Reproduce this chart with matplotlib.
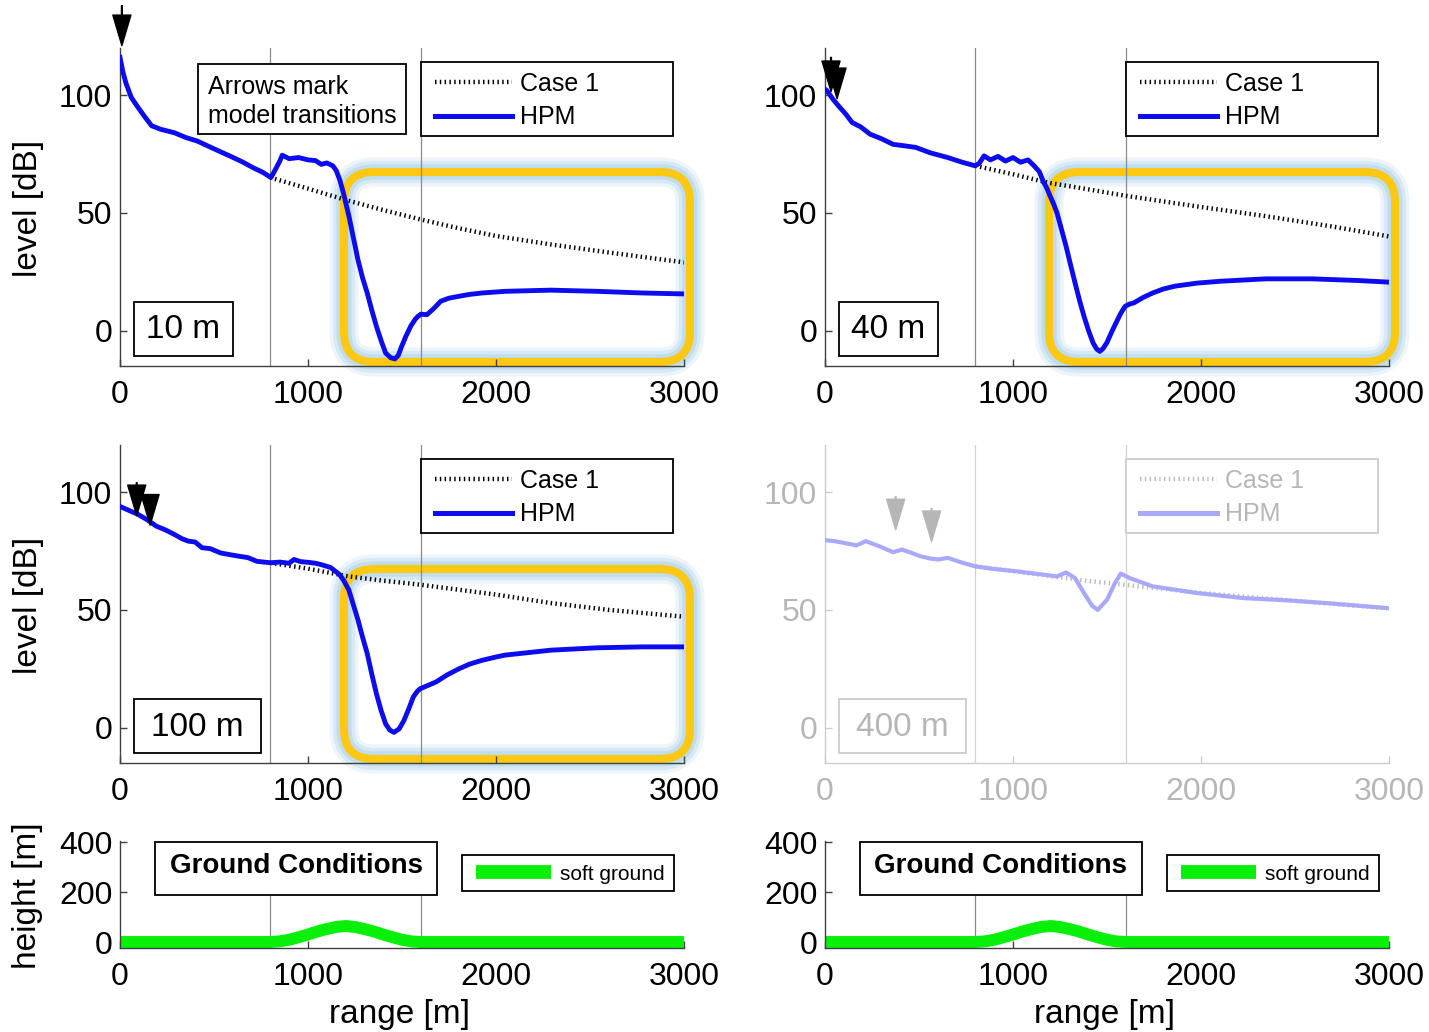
import matplotlib
matplotlib.use("Agg")
import matplotlib.pyplot as plt
from matplotlib.patches import FancyBboxPatch, Rectangle
from matplotlib.lines import Line2D

plt.rcParams['font.family'] = ['Liberation Sans', 'DejaVu Sans']

# ---------------------------------------------------------------- data
x_ticks = [0, 1000, 2000, 3000]
level_ticks = [0, 50, 100]
height_ticks = [0, 200, 400]
transitions = [800, 1600]          # model transition ranges [m]

# receiver height 10 m
range_10m = [0, 15, 32, 60, 94, 130, 168, 216, 290, 350, 411, 500, 583, 650,
             705, 760, 803, 827, 850, 863, 900, 950, 1000, 1040, 1070, 1100,
             1132, 1150, 1169, 1188, 1200, 1218, 1240, 1266, 1290, 1315, 1340,
             1364, 1390, 1413, 1440, 1462, 1480, 1498, 1520, 1547, 1570, 1584,
             1600, 1633, 1670, 1706, 1750, 1803, 1860, 1926, 2048, 2292, 2536,
             2780, 3000]
hpm_10m = [116, 110, 105, 99, 95, 91, 87, 85.5, 84, 82, 80.5, 77.2, 74.2, 71.7,
           69.3, 67.2, 65, 68.5, 72, 74.5, 73, 73.5, 72.5, 72.2, 70.6, 71.2,
           70, 68, 64, 58.6, 54.5, 48.5, 40, 30, 22.5, 16, 8.5,
           1.8, -4.5, -9.5, -11.5, -12, -10.5, -6.7, -2.5, 2, 4.8, 6,
           7, 6.8, 9.5, 12.5, 13.8, 14.6, 15.4, 16, 16.7, 17.2, 16.7,
           16, 15.6]
case1_range_10m = [800, 1000, 1200, 1400, 1600, 1800, 2000, 2300, 2600, 3000]
case1_10m = [65, 60.3, 55.5, 51.2, 47.2, 43.5, 40.2, 36.5, 33.2, 29]

# receiver height 40 m
range_40m = [0, 11, 40, 71, 110, 144, 190, 240, 300, 362, 420, 483, 560, 653,
             730, 798, 820, 846, 880, 920, 960, 1000, 1040, 1080, 1112, 1140,
             1160, 1180, 1197, 1215, 1234, 1258, 1282, 1306, 1330, 1354, 1378,
             1402, 1426, 1445, 1462, 1480, 1500, 1525, 1548, 1572, 1596, 1620,
             1643, 1690, 1743, 1800, 1862, 1980, 2106, 2346, 2590, 2833, 3000]
hpm_40m = [102.5, 101.8, 98.5, 95.5, 92, 88.4, 86.5, 83.4, 81.5, 79.1, 78.5,
           77.8, 75.5, 73.5, 71.5, 70, 71, 74.2, 72.5, 74, 72, 73.5, 71.5,
           72.5, 70, 67.5, 63.5, 60.5, 57.2, 54, 50, 43, 35.9, 28, 20.3,
           12.8, 6, 0, -5.2, -7.8, -8.8, -7.5, -5, -0.5, 3.3, 7.2, 10.3,
           11.3, 11.8, 14, 16, 17.7, 18.9, 20.2, 21, 22, 22, 21.3, 20.6]
case1_range_40m = [800, 1000, 1188, 1400, 1604, 2000, 2346, 2700, 3000]
case1_40m = [70, 66.4, 62.8, 60, 57.2, 52.5, 48.6, 44.2, 40]

# receiver height 100 m
range_100m = [0, 40, 94, 140, 192, 240, 290, 330, 363, 400, 436, 480, 534,
              580, 632, 680, 729, 802, 850, 900, 925, 960, 1000, 1040, 1071,
              1120, 1168, 1190, 1217, 1240, 1266, 1290, 1315, 1340, 1364, 1388,
              1413, 1435, 1457, 1485, 1510, 1535, 1560, 1580, 1596, 1640, 1681,
              1740, 1803, 1860, 1926, 2000, 2048, 2292, 2536, 2780, 3000]
hpm_100m = [93.9, 92.5, 90.6, 88.5, 85.6, 84, 82, 80.2, 79.2, 78.8, 76.4, 76,
            74.2, 73.5, 72.8, 72.2, 70.6, 70, 70.3, 69.8, 71.4, 70.5, 70.2,
            69.8, 69.2, 68, 65, 62.5, 58.5, 52.5, 45.7, 38.5, 31.5, 22.5, 14.4,
            7.5, 1.6, -1, -2, -0.5, 3, 7.8, 13, 15.3, 16.5, 18, 19.4,
            22.4, 25, 27, 28.6, 30, 30.8, 32.9, 33.9, 34.3, 34.3]
case1_range_100m = [800, 1000, 1217, 1400, 1596, 2000, 2292, 2600, 3000]
case1_100m = [70, 67.5, 64.2, 62.4, 60.7, 56.5, 52.9, 50, 47.1]

# receiver height 400 m
range_400m = [0, 50, 96, 168, 217, 289, 362, 410, 460, 506, 560, 604, 653,
              720, 798, 895, 1016, 1137, 1234, 1282, 1330, 1378, 1420, 1451,
              1500, 1540, 1573, 1621, 1743, 1984, 2227, 2469, 2712, 3000]
hpm_400m = [79.6, 79.2, 78.5, 77.4, 79.2, 77, 74.5, 75.6, 74.2, 72.8, 71.8,
            71.4, 72.1, 70.3, 68.5, 67.4, 66.4, 65.2, 64.2, 65.9, 63.5, 57.1,
            51.8, 50, 54.3, 61, 65.4, 63.5, 60, 57.1, 55, 54, 52.6, 50.7]
case1_range_400m = [800, 1400, 2000, 3000]
case1_400m = [68.5, 62.3, 57.2, 50.6]

# terrain profile (soft ground everywhere)
ground_range = [0, 800, 850, 900, 950, 1000, 1050, 1100, 1150, 1200, 1250,
                1300, 1350, 1400, 1450, 1500, 1550, 1600, 3000]
ground_height = [0, 0, 2.5, 9, 19, 30, 42, 52, 60, 64, 60, 52, 42, 30, 19,
                 9, 2.5, 0, 0]

# transition arrows: (range, level at tail, level at tip)
arrows_10m = [(10, 138, 121)]
arrows_40m = [(32, 116, 101.5), (64, 111, 98.5)]
arrows_100m = [(89, 104, 90), (160, 97, 86)]
arrows_400m = [(376, 98, 84), (567, 93, 79)]

# ---------------------------------------------------------------- layout
W, H = 1429, 1032
fig = plt.figure(figsize=(W / 100, H / 100), dpi=100)
fig.patch.set_facecolor('white')


def fx(px):
    return px / W


def fy(py):
    return 1 - py / H


def axes_at(x0, y0, x1, y1):
    return fig.add_axes([fx(x0), fy(y1), (x1 - x0) / W, (y1 - y0) / H])


def box(x0, y0, x1, y1, ec='black', lw=1.3):
    fig.add_artist(Rectangle((fx(x0), fy(y1)), (x1 - x0) / W, (y1 - y0) / H,
                             transform=fig.transFigure, fc='white', ec=ec,
                             lw=lw, zorder=5))


def ftext(x, y, s, **kw):
    kw.setdefault('zorder', 6)
    fig.text(fx(x), fy(y), s, **kw)


def fline(x0, x1, y, **kw):
    fig.add_artist(Line2D([fx(x0), fx(x1)], [fy(y), fy(y)],
                          transform=fig.transFigure, zorder=6, **kw))


def style_axes(ax, ylim, yticks, ink, spine):
    ax.set_xlim(0, 3000)
    ax.set_ylim(*ylim)
    ax.set_xticks(x_ticks)
    ax.set_yticks(yticks)
    ax.set_facecolor('none')
    for s in ('top', 'right'):
        ax.spines[s].set_visible(False)
    for s in ('left', 'bottom'):
        ax.spines[s].set_color(spine)
        ax.spines[s].set_linewidth(1.0)
    ax.tick_params(axis='both', direction='in', length=5, width=1,
                   color=spine, labelcolor=ink, labelsize=23)
    ax.tick_params(axis='x', pad=10)
    ax.tick_params(axis='y', pad=5.5)


DOTS = (0, (0.33, 0.75))


def level_panel(left, top, r, lv, cr, cv, tag, tag_w, arrows,
                yellow=True, faded=False):
    ax = axes_at(left, top, left + 564, top + 318)
    ink = '#b6b6b6' if faded else 'black'
    spine = '#cccccc' if faded else '#404040'
    blue = '#a9a9fb' if faded else '#0c0cee'
    dot = '#bdbdbd' if faded else 'black'
    vcol = '#d2d2d2' if faded else '#8a8a8a'
    style_axes(ax, (-15, 120), level_ticks, ink, spine)

    for t in transitions:
        ax.axvline(t, color=vcol, lw=0.9, zorder=1)

    if yellow:
        x0, x1 = left + 224, left + 570
        y0, y1 = top + 124, top + 314
        rect = (fx(x0), fy(y1), (x1 - x0) / W, (y1 - y0) / H)
        style = "round,pad=0,rounding_size=%f" % (30 / W)
        for lw, a in ((21, 0.18), (16, 0.28), (11, 0.4)):
            ax.add_patch(FancyBboxPatch(rect[:2], rect[2], rect[3],
                                        boxstyle=style, mutation_aspect=W / H,
                                        transform=fig.transFigure, fc='none',
                                        ec='#9fcbe6', lw=lw, alpha=a,
                                        clip_on=False, zorder=0.4))
        ax.add_patch(FancyBboxPatch(rect[:2], rect[2], rect[3],
                                    boxstyle=style, mutation_aspect=W / H,
                                    transform=fig.transFigure, fc='none',
                                    ec='#fcc814', lw=5.8,
                                    clip_on=False, zorder=0.5))

    ax.plot(cr, cv, color=dot, lw=3.2, ls=DOTS, zorder=2,
            dash_capstyle='butt')
    ax.plot(r, lv, color=blue, lw=3.0 if faded else 3.5, zorder=3,
            solid_joinstyle='round')

    for xa, ya0, ya1 in arrows:
        ax.annotate('', xy=(xa, ya1), xytext=(xa, ya0),
                    arrowprops=dict(facecolor=ink, edgecolor=ink, width=0.6,
                                    headwidth=13, headlength=22, shrink=0),
                    annotation_clip=False, zorder=4)

    # receiver height tag
    box(left + 14, top + 254, left + 14 + tag_w, top + 308,
        ec=spine if faded else 'black')
    ftext(left + 14 + tag_w / 2, top + 282, tag, ha='center', va='center',
          fontsize=24, color=ink)

    # legend
    lx, ly = left + 301, top + 14
    box(lx, ly, lx + 252, ly + 74, ec=spine if faded else 'black')
    fline(lx + 14, lx + 91, ly + 20, color=dot, lw=3.2, ls=DOTS,
          dash_capstyle='butt')
    fline(lx + 14, lx + 91, ly + 54, color=blue, lw=3.6)
    ftext(lx + 99, ly + 22, 'Case 1', ha='left', va='center', fontsize=18,
          color=ink)
    ftext(lx + 99, ly + 55, 'HPM', ha='left', va='center', fontsize=18,
          color=ink)
    return ax


def ground_panel(left):
    ax = axes_at(left, 841, left + 564, 948)
    style_axes(ax, (-24, 404), height_ticks, 'black', '#404040')
    for t in transitions:
        ax.axvline(t, color='#8a8a8a', lw=0.9, zorder=1)
    ax.plot(ground_range, ground_height, color='#08f008', lw=8.6, zorder=2,
            solid_capstyle='butt')
    box(left + 35, 842, left + 317, 895)
    ftext(left + 176, 866, 'Ground Conditions', ha='center', va='center',
          fontsize=20, fontweight='bold')
    box(left + 342, 855, left + 554, 891)
    fline(left + 356, left + 431, 872, color='#08f008', lw=10,
          solid_capstyle='butt')
    ftext(left + 440, 874, 'soft ground', ha='left', va='center',
          fontsize=15)
    ftext(left + 280, 1015, 'range [m]', ha='center', va='center',
          fontsize=24)
    return ax


level_panel(120, 48, range_10m, hpm_10m, case1_range_10m, case1_10m,
            '10 m', 99, arrows_10m)
level_panel(825, 48, range_40m, hpm_40m, case1_range_40m, case1_40m,
            '40 m', 99, arrows_40m)
level_panel(120, 445, range_100m, hpm_100m, case1_range_100m, case1_100m,
            '100 m', 127, arrows_100m)
level_panel(825, 445, range_400m, hpm_400m, case1_range_400m, case1_400m,
            '400 m', 127, arrows_400m, yellow=False, faded=True)

ground_panel(120)
ground_panel(825)

# note on the transition arrows
box(198, 64, 406, 134)
ftext(208, 87, 'Arrows mark', ha='left', va='center', fontsize=18)
ftext(208, 116, 'model transitions', ha='left', va='center', fontsize=18)

# axis labels
ftext(28, 208, 'level [dB]', ha='center', va='center', rotation=90,
      fontsize=24)
ftext(28, 605, 'level [dB]', ha='center', va='center', rotation=90,
      fontsize=24)
ftext(28, 896, 'height [m]', ha='center', va='center', rotation=90,
      fontsize=24)

fig.savefig('out.png', dpi=100, facecolor='white')
